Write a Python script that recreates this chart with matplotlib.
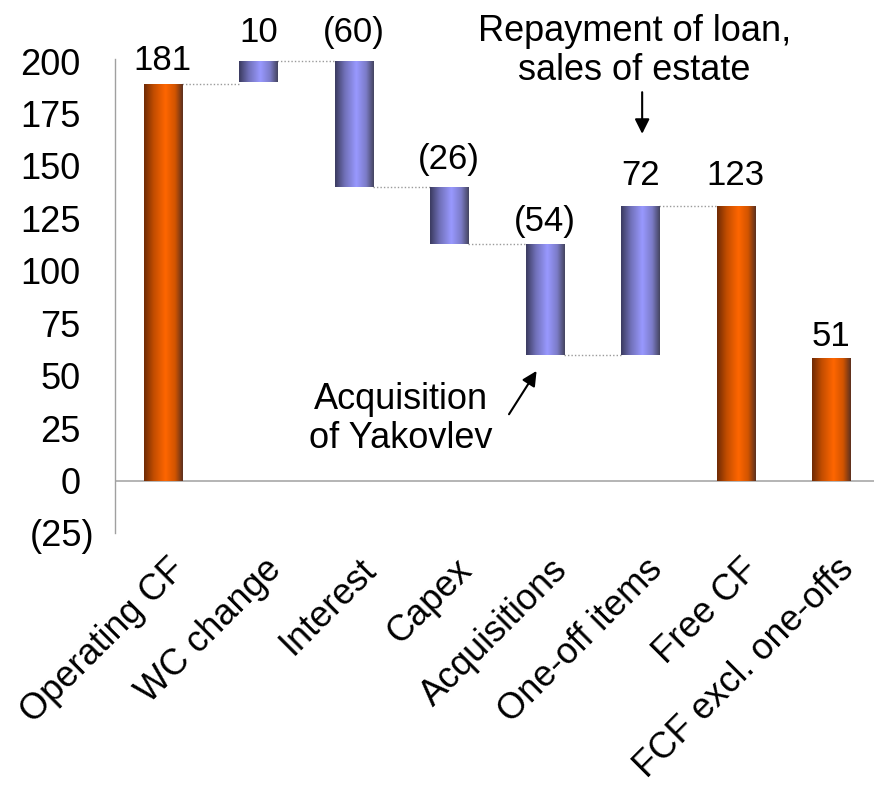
import numpy as np
import matplotlib
matplotlib.use("Agg")
import matplotlib.pyplot as plt
from matplotlib.colors import LinearSegmentedColormap
from matplotlib.transforms import ScaledTranslation

# ---- data ----
categories = ["Operating CF", "WC change", "Interest", "Capex", "Acquisitions",
              "One-off items", "Free CF", "FCF excl. one-offs"]
bar_bottom = [0, 190, 140, 113, 60, 60, 0, 0]
bar_top = [189, 200, 200, 140, 113, 131, 131, 58.5]
value_labels = ["181", "10", "(60)", "(26)", "(54)", "72", "123", "51"]
is_total = [True, False, False, False, False, False, True, True]
y_ticks = [-25, 0, 25, 50, 75, 100, 125, 150, 175, 200]
y_tick_labels = ["(25)", "0", "25", "50", "75", "100", "125", "150", "175", "200"]

plt.rcParams['font.family'] = ['Liberation Sans', 'DejaVu Sans']

fig = plt.figure(figsize=(8.74, 7.94), dpi=100)
ax = fig.add_axes([115 / 874, (794 - 533) / 794, 764 / 874, 474 / 794])

orange_cmap = LinearSegmentedColormap.from_list(
    "org", [(0, "#6e2a05"), (0.25, "#c24d00"), (0.55, "#ff6600"), (0.8, "#d25400"), (1, "#5a3020")])
blue_cmap = LinearSegmentedColormap.from_list(
    "blu", [(0, "#3a3a5e"), (0.25, "#7070b8"), (0.55, "#9999ff"), (0.8, "#7c7cc8"), (1, "#44445e")])

width = 0.4
x = np.arange(len(categories))
heights = [t - b for t, b in zip(bar_top, bar_bottom)]
bars = ax.bar(x, heights, bottom=bar_bottom, width=width,
              color=["#ff6600" if t else "#9999ff" for t in is_total],
              edgecolor="none", zorder=2)

grad = np.linspace(0, 1, 256).reshape(1, -1)
for rect, tot in zip(bars, is_total):
    x0, y0 = rect.get_x(), rect.get_y()
    w, h = rect.get_width(), rect.get_height()
    im = ax.imshow(grad, cmap=orange_cmap if tot else blue_cmap, aspect="auto",
                   extent=[x0, x0 + w, y0, y0 + h], zorder=3, interpolation="bicubic")
    im.set_clip_path(rect)

# connectors
levels = [bar_top[0], bar_top[1], bar_bottom[2], bar_bottom[3], bar_bottom[4], bar_top[5]]
for i, lv in enumerate(levels):
    ax.plot([x[i] + width / 2, x[i + 1] - width / 2], [lv, lv], ls=(0, (1, 1.5)),
            color="#9a9a9a", lw=1.0, zorder=1)

# value labels
offsets = [14, 19, 19, 18, 13, 21, 21, 12]
for i, lab in enumerate(value_labels):
    ax.annotate(lab, (x[i], bar_top[i]), xytext=(0, offsets[i] * 0.72),
                textcoords="offset points", ha="center", va="baseline", fontsize=25)

# zero line
ax.axhline(0, color="#a8a8a8", lw=1.2, zorder=1)

ax.set_xlim(-0.5, 7.5)
ax.set_ylim(-25, 201)

for s in ["top", "right", "bottom"]:
    ax.spines[s].set_visible(False)
ax.spines["left"].set_color("#a0a0a0")
ax.spines["left"].set_linewidth(1.0)

ax.set_yticks(y_ticks)
ax.set_yticklabels(y_tick_labels, fontsize=26)
ax.tick_params(axis="y", length=0, pad=25)
for lbl in ax.get_yticklabels():
    if lbl.get_text().startswith("("):
        lbl.set_transform(lbl.get_transform() + ScaledTranslation(0.14, 0, fig.dpi_scale_trans))

ax.set_xticks(x)
ax.set_xticklabels(categories, fontsize=26, rotation=45, ha="right",
                   rotation_mode="anchor", va="top")
ax.tick_params(axis="x", length=0, pad=0)
for lbl in ax.get_xticklabels():
    lbl.set_transform(lbl.get_transform() + ScaledTranslation(0.05, -0.19, fig.dpi_scale_trans))

# annotations
ax.annotate("", xy=(5.02, 164), xytext=(5.02, 186.5),
            arrowprops=dict(arrowstyle="-|>", color="black", lw=1.5, mutation_scale=22))
ax.text(4.94, 191.2, "Repayment of loan,\nsales of estate", ha="center", va="baseline",
        fontsize=26, linespacing=1.15)
ax.annotate("", xy=(3.93, 53.4), xytext=(3.61, 30.5),
            arrowprops=dict(arrowstyle="-|>", color="black", lw=1.5, mutation_scale=22))
ax.text(2.49, 15.7, "Acquisition\nof Yakovlev", ha="center", va="baseline",
        fontsize=26, linespacing=1.15)

fig.savefig("out.png", dpi=100)
